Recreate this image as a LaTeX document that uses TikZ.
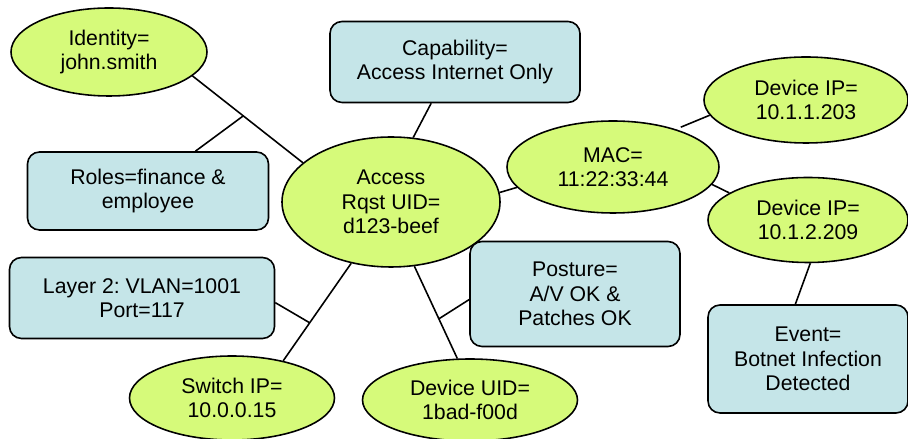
\documentclass[tikz,border=0pt]{standalone}
\usepackage{fontspec}
\setmainfont{Liberation Sans}
\usepackage{xcolor}
\usepackage{tikz}
\usetikzlibrary{shapes.geometric, positioning, calc}
\definecolor{attrgreen}{RGB}{214,250,122}
\definecolor{attrblue}{RGB}{197,229,232}
\frenchspacing

\begin{document}
\begin{tikzpicture}[
    font=\fontsize{12.1}{13.8}\selectfont,
    line width=0.9pt,
    ellnode/.style={ellipse, draw, fill=attrgreen, inner sep=0pt, align=center},
    boxnode/.style={rectangle, rounded corners=0.24cm, draw, fill=attrblue, inner sep=0pt, align=center}
]
    \useasboundingbox (0,0) rectangle (18.16,8.78);

    % --- CENTRE ---
    \node[ellnode, minimum width=4.36cm, minimum height=2.6cm] (acc) at (7.82,4.74) {Access\\Rqst UID=\\d123-beef};

    % --- LEFT SIDE ---
    \node[ellnode, minimum width=3.92cm, minimum height=1.76cm] (ident) at (2.18,7.74) {Identity=\\john.smith};
    \node[boxnode, minimum width=4.82cm, minimum height=1.56cm] (roles) at (2.96,4.96) {Roles=finance \&\\employee};
    \node[boxnode, minimum width=5.3cm, minimum height=1.62cm] (layer) at (2.84,2.82) {Layer 2: VLAN=1001\\Port=117};
    \node[ellnode, minimum width=4.1cm, minimum height=1.68cm] (swip) at (4.64,0.82) {Switch IP=\\10.0.0.15};

    % --- TOP & BOTTOM ---
    \node[boxnode, minimum width=5.0cm, minimum height=1.62cm] (capab) at (9.10,7.54) {Capability=\\Access Internet Only};
    \node[ellnode, minimum width=4.3cm, minimum height=1.64cm] (devuid) at (9.4,0.78) {Device UID=\\1bad-f00d};
    \node[boxnode, minimum width=4.2cm, minimum height=2.1cm] (posture) at (11.5,2.9) {Posture=\\A/V OK \&\\Patches OK};

    % --- RIGHT SIDE ---
    \node[ellnode, minimum width=4.24cm, minimum height=1.84cm] (mac) at (12.26,5.44) {MAC=\\11:22:33:44};
    \node[ellnode, minimum width=4.08cm, minimum height=1.72cm] (devipa) at (16.12,6.78) {Device IP=\\10.1.1.203};
    \node[ellnode, minimum width=4.0cm, minimum height=1.70cm] (devipb) at (16.16,4.38) {Device IP=\\10.1.2.209};
    \node[boxnode, minimum width=4.0cm, minimum height=2.16cm] (event) at (16.16,1.6) {Event=\\Botnet Infection\\Detected};

    % --- CONNECTORS ---
    \draw (ident.-16) -- coordinate[pos=0.46] (jroles) (acc.156);
    \draw (jroles) -- (roles.40);
    \draw (capab.-120) -- (acc.71);
    \draw (acc.5) -- (mac.-168);
    \draw[shorten <=3pt] (mac.31) -- (devipa.-171);
    \draw (mac.-10) -- (devipb.161);
    \draw (devipb.-87) -- (event.103);
    \draw (acc.-123) -- coordinate[pos=0.61] (jlayer) (swip.36);
    \draw (jlayer) -- (layer.-2);
    \draw (acc.-70) -- coordinate[pos=0.57] (jposture) (devuid.107);
    \draw (jposture) -- (posture.183);
\end{tikzpicture}
\end{document}
